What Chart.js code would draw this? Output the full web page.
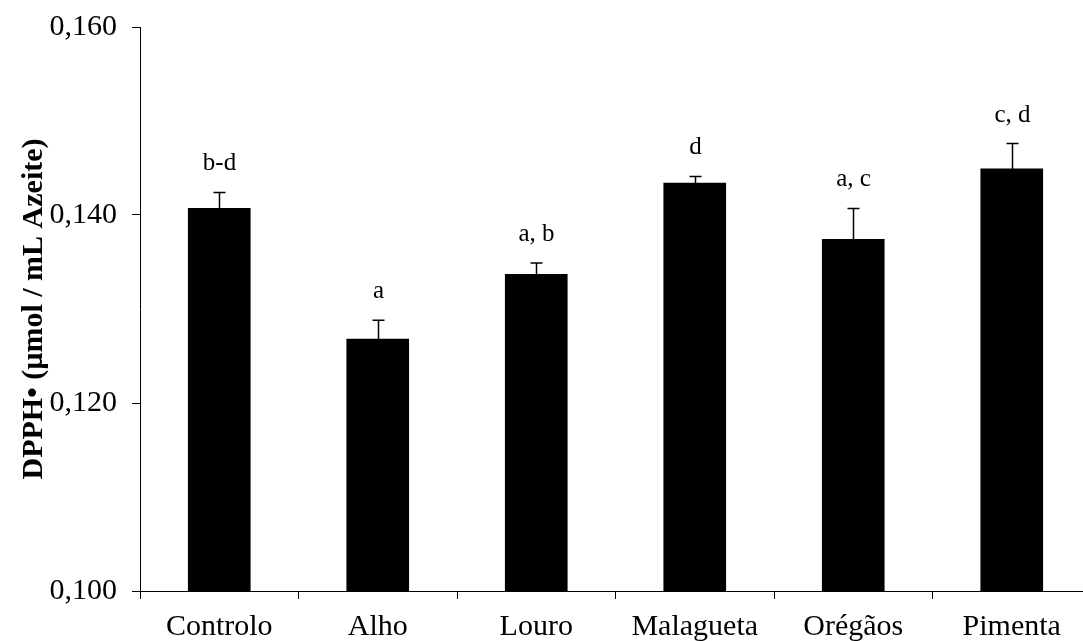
<!DOCTYPE html>
<html>
<head>
<meta charset="utf-8">
<script src="https://cdn.jsdelivr.net/npm/chart.js@4/dist/chart.umd.min.js"></script>
<style>
  html, body { margin: 0; padding: 0; background: #fff; overflow: hidden; }
  #wrap { width: 1092px; height: 641px; }
  canvas { display: block; }
</style>
</head>
<body>
<div id="wrap"><canvas id="c" width="1092" height="641"></canvas></div>
<script>
// DPPH• per sample (mean, standard deviation) and significance letters
const categories = ['Controlo', 'Alho', 'Louro', 'Malagueta', 'Orégãos', 'Pimenta'];
const means = [0.1407, 0.1268, 0.1337, 0.1434, 0.1374, 0.1449];
const sds = [0.0017, 0.0020, 0.0012, 0.0007, 0.0033, 0.0027];
const letters = ['b-d', 'a', 'a, b', 'd', 'a, c', 'c, d'];
const yMin = 0.100;
const yMax = 0.160;
const yStep = 0.020;

const SERIF = '"Liberation Serif", "Times New Roman", serif';

// upward error bars and letters above each bar
const errorBarPlugin = {
  id: 'errorBars',
  afterDatasetsDraw(chart) {
    const ctx = chart.ctx;
    const meta = chart.getDatasetMeta(0);
    const y = chart.scales.y;
    ctx.save();
    ctx.strokeStyle = '#000';
    ctx.lineWidth = 1.5;
    ctx.fillStyle = '#000';
    ctx.font = '25px ' + SERIF;
    ctx.textAlign = 'center';
    ctx.textBaseline = 'alphabetic';
    meta.data.forEach((bar, i) => {
      const x = Math.round(bar.x) + 0.5;
      const yTop = y.getPixelForValue(means[i]);
      const yErr = y.getPixelForValue(means[i] + sds[i]);
      ctx.beginPath();
      ctx.moveTo(x, yTop);
      ctx.lineTo(x, yErr);
      ctx.moveTo(x - 6, yErr);
      ctx.lineTo(x + 6, yErr);
      ctx.stroke();
      ctx.fillText(letters[i], x, yErr - 22);
    });
    ctx.restore();
  }
};

new Chart(document.getElementById('c'), {
  type: 'bar',
  data: {
    labels: categories,
    datasets: [{
      data: means,
      backgroundColor: '#000',
      borderWidth: 0,
      barThickness: 62
    }]
  },
  options: {
    responsive: false,
    animation: false,
    layout: { padding: { top: 27, right: 1, left: 0, bottom: 0 } },
    plugins: { legend: { display: false }, tooltip: { enabled: false } },
    scales: {
      x: {
        offset: true,
        grid: { offset: true, drawOnChartArea: false, drawTicks: true, tickLength: 8, color: '#000', lineWidth: 1 },
        border: { color: '#000', width: 1 },
        ticks: { color: '#000', padding: 10, font: { family: SERIF, size: 30 }, maxRotation: 0, autoSkip: false },
        afterFit(scale) {
          scale.height = 50;
          scale.paddingLeft = 0;
          scale.paddingRight = 0;
        }
      },
      y: {
        min: yMin,
        max: yMax,
        grid: { drawOnChartArea: false, drawTicks: true, tickLength: 8, color: '#000', lineWidth: 1 },
        border: { color: '#000', width: 1 },
        ticks: {
          stepSize: yStep,
          color: '#000',
          padding: 15,
          font: { family: SERIF, size: 30 },
          callback: (v) => Number(v).toFixed(3).replace('.', ',')
        },
        title: {
          display: true,
          text: 'DPPH• (µmol / mL Azeite)',
          color: '#000',
          font: { family: SERIF, size: 30, weight: 'bold' },
          padding: { top: 16, bottom: 0 }
        },
        afterFit(scale) {
          scale.width = 140;
          scale.paddingTop = 0;
          scale.paddingBottom = 0;
        }
      }
    }
  },
  plugins: [errorBarPlugin]
});
</script>
</body>
</html>
